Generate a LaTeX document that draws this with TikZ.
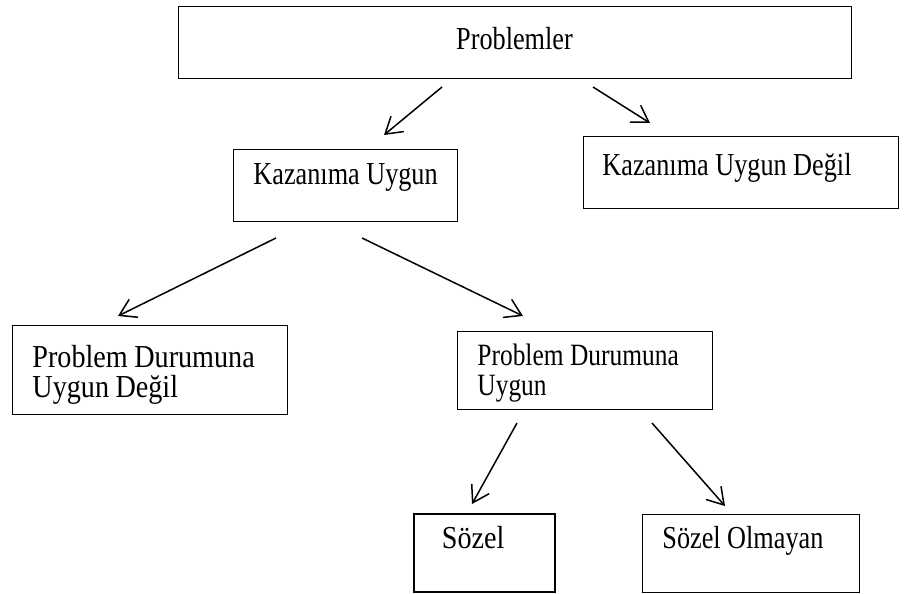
\documentclass[tikz,border=0pt]{standalone}
\usepackage{fontspec}
\setmainfont{Liberation Serif}[FakeStretch=0.82]
\newfontfamily\cmbfont{Liberation Serif}[FakeStretch=0.88]
\newcommand\wsp{\hspace{6.5pt}}
\usetikzlibrary{arrows.meta}
\begin{document}
\begin{tikzpicture}[x=1pt,y=-1pt,
  box/.style={draw, line width=0.9pt, anchor=base west, inner xsep=0pt, inner ysep=0pt,
              align=left, font=\fontsize{32}{30}\selectfont},
  arr/.style={line width=1.5pt, -{Straight Barb[length=16pt,width=20pt,line width=1.5pt]}}]
\useasboundingbox (0,0) rectangle (908,594);
% boxes
\node[box, anchor=base, align=center, text width=673pt, text height=44pt, text depth=28pt]
  (prob) at (514.5,50) {Problemler};
\node[box, text width=224pt, text height=35pt, text depth=37pt]
  (kaz) at (233,184) {\hspace*{20pt}\mbox{Kazanıma\wsp Uygun}};
\node[box, text width=315pt, text height=39pt, text depth=33pt]
  (kazd) at (583,175) {\hspace*{19pt}\mbox{Kazanıma\wsp Uygun\wsp Değil}};
\node[box, font=\cmbfont\fontsize{32}{30}\selectfont, text width=275pt, text height=42pt, text depth=47pt]
  (pdud) at (12,367) {\hspace*{20pt}\mbox{Problem\wsp Durumuna}\\\hspace*{20pt}\mbox{Uygun\wsp Değil}};
\node[box, font=\fontsize{31}{30}\selectfont, text width=255pt, text height=34pt, text depth=44pt]
  (pdu) at (457,365) {\hspace*{20pt}\mbox{Problem\wsp Durumuna}\\\hspace*{20pt}\mbox{Uygun}};
\node[box, line width=1.8pt, font=\cmbfont\fontsize{32}{30}\selectfont, text width=141pt, text height=34pt, text depth=44pt]
  (soz) at (413,548) {\hspace*{28pt}\mbox{Sözel}};
\node[box, text width=217pt, text height=34pt, text depth=44pt]
  (sozo) at (642,548) {\hspace*{20pt}\mbox{Sözel\wsp Olmayan}};
% connector ends
\coordinate (a1s) at (442,87);  \coordinate (a1e) at (384,135);
\coordinate (a2s) at (593,87);  \coordinate (a2e) at (650,123);
\coordinate (a3s) at (276,238); \coordinate (a3e) at (118,316);
\coordinate (a4s) at (362,238); \coordinate (a4e) at (523,316);
\coordinate (a5s) at (517,423); \coordinate (a5e) at (472,504);
\coordinate (a6s) at (652,423); \coordinate (a6e) at (725,506);
\draw[arr] (a1s) -- (a1e);
\draw[arr] (a2s) -- (a2e);
\draw[arr] (a3s) -- (a3e);
\draw[arr] (a4s) -- (a4e);
\draw[arr] (a5s) -- (a5e);
\draw[arr] (a6s) -- (a6e);
\end{tikzpicture}
\end{document}
